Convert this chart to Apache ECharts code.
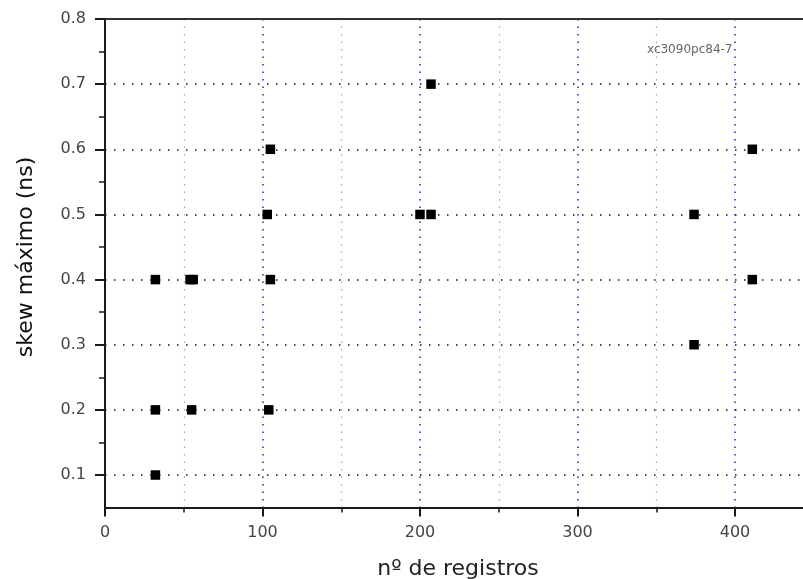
<!DOCTYPE html>
<html>
<head>
<meta charset="utf-8">
<script src="https://cdn.jsdelivr.net/npm/echarts@6/dist/echarts.min.js"></script>
<style>
  html, body { margin: 0; padding: 0; background: #fff; }
  #chart { width: 803px; height: 579px; }
</style>
</head>
<body>
<div id="chart"></div>
<script>
// nº de registros vs skew máximo (ns)
var registros = [32, 32, 32, 54, 56, 55, 104, 103, 105, 105, 200, 207, 207, 374, 374, 411, 411];
var skew      = [0.1, 0.2, 0.4, 0.4, 0.4, 0.2, 0.2, 0.5, 0.4, 0.6, 0.5, 0.5, 0.7, 0.5, 0.3, 0.6, 0.4];

var yMajorTicks = [0.1, 0.2, 0.3, 0.4, 0.5, 0.6, 0.7, 0.8];
var yMinorTicks = [0.15, 0.25, 0.35, 0.45, 0.55, 0.65, 0.75];

var chartTag = 'xc3090pc84-7';
var xTitle = 'nº de registros';
var yTitle = 'skew máximo (ns)';

var FONT = '"DejaVu Sans", sans-serif';

var points = registros.map(function (x, i) {
    return [x, skew[i]];
});

var chart = echarts.init(document.getElementById('chart'), null, { renderer: 'canvas' });

chart.setOption({
    animation: false,
    backgroundColor: '#ffffff',
    grid: {
        left: 105,
        top: 19,
        width: 708.75,
        height: 488.6,
        containLabel: false,
        outerBoundsMode: 'none'
    },
    xAxis: [
        {
            type: 'value',
            min: 0,
            max: 450,
            interval: 100,
            axisLine: { show: true, onZero: false, lineStyle: { color: '#1a1a1a', width: 2 } },
            axisTick: { show: true, length: 9, lineStyle: { color: '#1a1a1a', width: 2 } },
            minorTick: { show: true, splitNumber: 2, length: 5, lineStyle: { color: '#1a1a1a', width: 1.5 } },
            axisLabel: {
                margin: 17,
                color: '#444',
                fontFamily: FONT,
                fontSize: 16,
                formatter: function (v) {
                    return v % 100 === 0 ? String(v) : '';
                }
            },
            splitLine: {
                show: true,
                lineStyle: { color: '#1f2f9e', width: 1.5, type: [1.5, 6] }
            },
            minorSplitLine: {
                show: true,
                lineStyle: { color: '#7cc87c', width: 1.2, type: [1.5, 6] }
            }
        },
        {
            type: 'value',
            position: 'top',
            min: 0,
            max: 450,
            interval: 100,
            axisLine: { show: true, onZero: false, lineStyle: { color: '#333', width: 2 } },
            axisTick: { show: false },
            axisLabel: { show: false },
            splitLine: { show: false }
        }
    ],
    yAxis: [
        {
            type: 'value',
            min: 0.05,
            max: 0.8,
            interval: 0.05,
            axisLine: { show: true, onZero: false, lineStyle: { color: '#1a1a1a', width: 2 } },
            axisTick: {
                show: true,
                length: 10,
                customValues: yMajorTicks,
                lineStyle: { color: '#1a1a1a', width: 2 }
            },
            axisLabel: {
                margin: 19,
                color: '#444',
                fontFamily: FONT,
                fontSize: 16,
                customValues: yMajorTicks,
                formatter: function (v) {
                    return v.toFixed(1);
                }
            },
            splitLine: {
                show: true,
                lineStyle: { color: '#111', width: 1.5, type: [1.5, 7.5] }
            }
        },
        {
            type: 'value',
            position: 'left',
            min: 0.05,
            max: 0.8,
            interval: 0.05,
            axisLine: { show: false },
            axisTick: {
                show: true,
                length: 6,
                customValues: yMinorTicks,
                lineStyle: { color: '#1a1a1a', width: 1.5 }
            },
            axisLabel: { show: false },
            splitLine: { show: false }
        }
    ],
    graphic: [
        {
            type: 'text',
            x: 458,
            y: 569,
            style: {
                text: xTitle,
                fill: '#222',
                font: '22px ' + FONT,
                textAlign: 'center',
                textVerticalAlign: 'middle'
            }
        },
        {
            type: 'text',
            x: 26,
            y: 257,
            rotation: Math.PI / 2,
            style: {
                text: yTitle,
                fill: '#111',
                font: '22px ' + FONT,
                textAlign: 'center',
                textVerticalAlign: 'middle'
            }
        },
        {
            type: 'text',
            x: 647,
            y: 50,
            style: {
                text: chartTag,
                fill: '#666',
                font: '12px ' + FONT,
                textAlign: 'left',
                textVerticalAlign: 'middle'
            }
        }
    ],
    series: [{
        type: 'scatter',
        xAxisIndex: 0,
        yAxisIndex: 0,
        data: points,
        symbol: 'rect',
        symbolSize: 9.5,
        itemStyle: { color: '#000', opacity: 1 },
        z: 5
    }]
});
</script>
</body>
</html>
